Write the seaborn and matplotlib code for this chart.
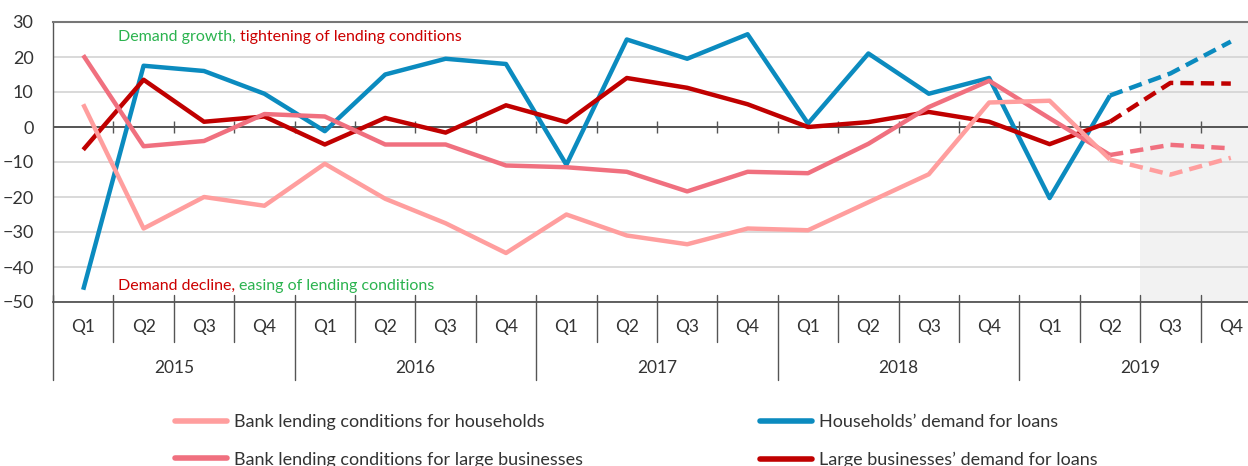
import numpy as np
import pandas as pd
import matplotlib
matplotlib.use("Agg")
import matplotlib.pyplot as plt
import seaborn as sns
from matplotlib.lines import Line2D
from matplotlib.transforms import blended_transform_factory, offset_copy

# ---------------- data ----------------
years = ["2015", "2016", "2017", "2018", "2019"]
quarters = ["Q1", "Q2", "Q3", "Q4"]

bank_households = [6.5, -29, -20, -22.5, -10.5, -20.5, -27.5, -36, -25, -31,
                   -33.5, -29, -29.5, -21.5, -13.5, 7, 7.5, -9.3, -13.6, -8.8]
bank_large_business = [20.5, -5.5, -4, 3.7, 3, -5, -5, -11, -11.5, -12.8,
                       -18.4, -12.8, -13.2, -4.8, 5.7, 13.2, 2.5, -8, -5.1, -6.1]
households_demand = [-46.5, 17.5, 16, 9.5, -1.2, 15, 19.5, 18, -10.8, 25,
                     19.5, 26.5, 1, 21, 9.5, 14, -20.3, 9, 15.3, 24.4]
large_business_demand = [-6.5, 13.5, 1.5, 3, -5, 2.6, -1.6, 6.2, 1.4, 14,
                         11.2, 6.5, 0, 1.4, 4.3, 1.5, -4.9, 1.5, 12.6, 12.4]
forecast_start = 17  # 2019 Q2 -> dashed afterwards

labels = ["Bank lending conditions for households",
          "Bank lending conditions for large businesses",
          "Households\u2019 demand for loans",
          "Large businesses\u2019 demand for loans"]
series = [bank_households, bank_large_business, households_demand, large_business_demand]
colors = ["#ff9e9e", "#f0707f", "#0b8bbf", "#c00000"]
draw_order = [2, 3, 1, 0]

GREEN = "#2bb34f"
RED = "#cc0000"

# ---------------- style ----------------
sns.set_theme(style="white")
plt.rcParams["font.family"] = ["Lato", "DejaVu Sans"]

W, H = 1248, 466
fig = plt.figure(figsize=(W / 100, H / 100), dpi=100)
ax = fig.add_axes([53 / W, 1 - 302 / H, 1 - 53 / W, 280 / H])

n = len(households_demand)
idx = np.arange(n)

ax.axvspan(forecast_start + 0.5, n + 1, color="#f2f2f2", zorder=0, lw=0)

for k in draw_order:
    vals = series[k]
    df = pd.DataFrame({"i": idx, "v": vals})
    solid = df[df.i <= forecast_start]
    dashed = df[df.i >= forecast_start]
    sns.lineplot(data=solid, x="i", y="v", ax=ax, color=colors[k], lw=3.2,
                 zorder=3, solid_capstyle="butt")
    sns.lineplot(data=dashed, x="i", y="v", ax=ax, color=colors[k], lw=3.2,
                 zorder=3, linestyle=(0, (3, 1.6)), dash_capstyle="butt")

ax.set_xlim(-0.5, -0.5 + (W - 53) / 60.4)
ax.set_ylim(-50, 30)
ax.set_yticks(np.arange(-50, 31, 10))
ax.set_xticks([])
ax.set_xlabel("")
ax.set_ylabel("")
ax.yaxis.grid(True, color="#d3d3d3", lw=1.2, zorder=1)
ax.set_axisbelow(True)
ax.tick_params(axis="y", length=0, pad=14, labelsize=13, labelcolor="#333333")

ax.spines["right"].set_visible(False)
ax.spines["top"].set_color("#777777")
ax.spines["top"].set_linewidth(1.5)
ax.spines["bottom"].set_color("#555555")
ax.spines["bottom"].set_linewidth(1.3)
ax.spines["left"].set_color("#555555")
ax.spines["left"].set_linewidth(1.0)

# zero line with category ticks
ax.axhline(0, color="#555555", lw=1.4, zorder=2)
bounds = np.arange(-0.5, n - 0.5 + 0.01, 1.0)
ax.vlines(bounds[1:], -1.8, 1.8, color="#555555", lw=1.0, zorder=2)

# multi-level category axis
bt = blended_transform_factory(ax.transData, ax.transAxes)
for b in bounds:
    is_year = abs(((b + 0.5) % 4)) < 1e-6
    ybot = -0.279 if is_year else -0.143
    ax.plot([b, b], [ybot, 0.025], transform=bt, color="#555555", lw=1.0,
            clip_on=False, zorder=2)
for i in range(n):
    ax.text(i, -0.089, quarters[i % 4], transform=bt, ha="center", va="center",
            fontsize=12.5, color="#333333")
for j, y in enumerate(years):
    ax.text(4 * j + 1.5, -0.236, y, transform=bt, ha="center", va="center",
            fontsize=12.5, color="#333333")

# coloured annotations
fig.canvas.draw()
renderer = fig.canvas.get_renderer()


def two_colour(x, y, a, ca, b, cb):
    t1 = ax.text(x, y, a, transform=ax.transAxes, color=ca, fontsize=11.5,
                 va="baseline", ha="left", zorder=5)
    w = t1.get_window_extent(renderer).width
    ax.text(x, y, b, transform=offset_copy(ax.transAxes, fig, x=w, y=0, units="dots"),
            color=cb, fontsize=11.5, va="baseline", ha="left", zorder=5)


two_colour((118 - 53) / 1195, (302 - 41) / 280, "Demand growth, ", GREEN,
           "tightening of lending conditions", RED)
two_colour((118 - 53) / 1195, (302 - 290) / 280, "Demand decline, ", RED,
           "easing of lending conditions", GREEN)

# legends
handles = [Line2D([0], [0], color=c, lw=4) for c in colors]
common = dict(frameon=False, loc="upper left", fontsize=13, handlelength=2.9,
              handletextpad=0.35, labelspacing=1.2, borderaxespad=0, borderpad=0,
              labelcolor="#333333")
fig.legend(handles[:2], labels[:2], bbox_to_anchor=(175 / W, 1 - 414 / H), **common)
fig.legend(handles[2:], labels[2:], bbox_to_anchor=(760 / W, 1 - 414 / H), **common)

fig.savefig("out.png", dpi=100)
